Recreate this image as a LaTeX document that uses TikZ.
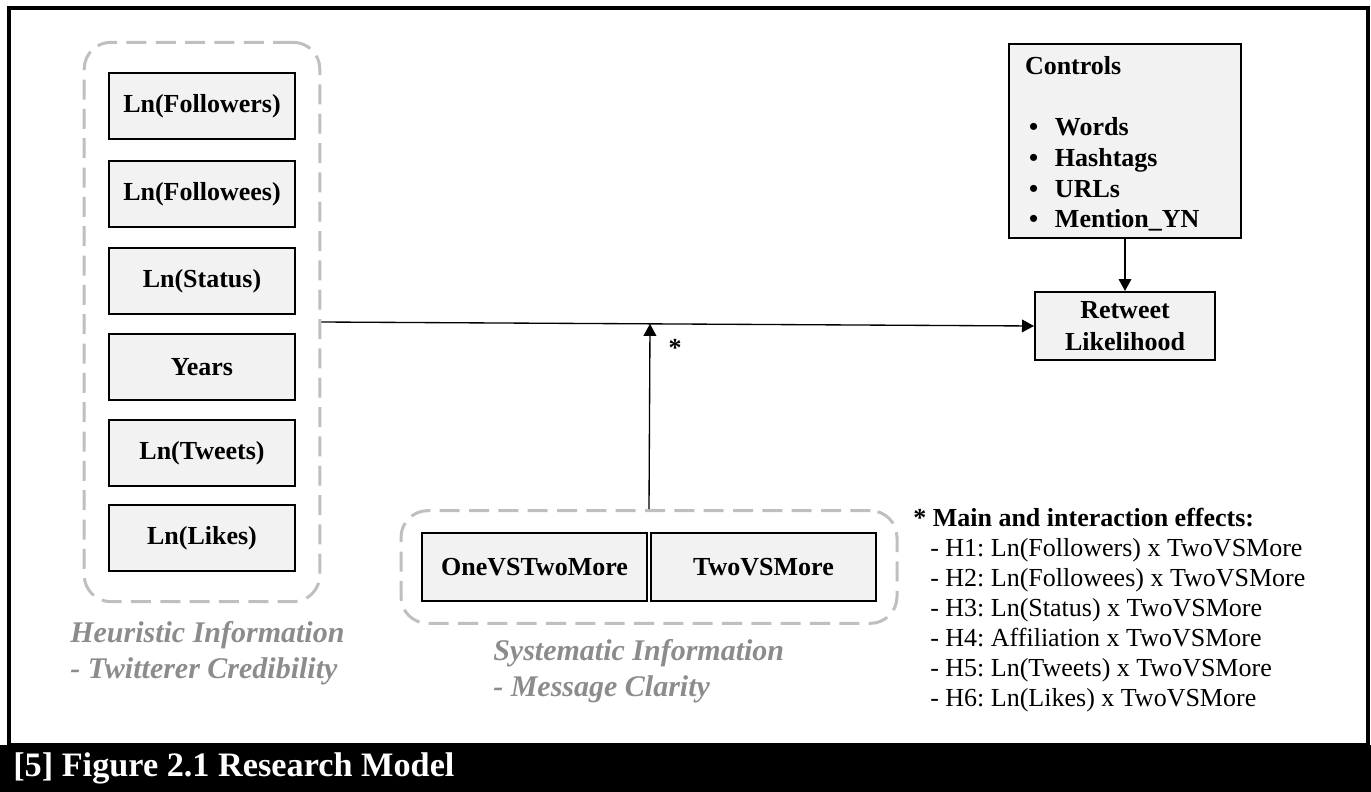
\documentclass[tikz,border=0pt]{standalone}
\usepackage{fontspec}
\setmainfont{Liberation Serif}
\frenchspacing
\usetikzlibrary{arrows.meta,calc,fit}
\definecolor{boxfill}{RGB}{242,242,242}
\definecolor{groupline}{RGB}{191,191,191}
\definecolor{grouptext}{RGB}{140,140,140}

\begin{document}
\begin{tikzpicture}[x=0.75pt,y=0.75pt,yscale=-1,xscale=1,
	varbox/.style={draw=black, line width=1.5pt, fill=boxfill, inner sep=0pt, align=center,
		font=\fontsize{19.5pt}{24pt}\selectfont\bfseries},
	hbox/.style={varbox, minimum width=140pt, minimum height=50pt},
	sbox/.style={varbox, minimum width=168.75pt, minimum height=51pt},
	groupbox/.style={draw=groupline, line width=2.25pt, dash pattern=on 15pt off 7pt, rounded corners=20pt},
	grouplabel/.style={text=grouptext, anchor=north west, inner sep=0pt, align=left,
		font=\fontsize{22.5pt}{27pt}\selectfont\bfseries\itshape},
	link/.style={line width=1pt, -{Triangle[width=9.5pt,length=9pt]}}
	]
	\useasboundingbox (0,0) rectangle (1371,792);

	%Frame and caption bar
	\draw[line width=2.5pt] (9,8) rectangle (1368,745);
	\fill[black] (0,745) rectangle (1371,792);
	\node[anchor=west, inner sep=0pt, text=white, font=\fontsize{25.7pt}{30pt}\selectfont\bfseries] (caption) at (13,768) {[5] Figure 2.1 Research Model};

	%Heuristic variables
	\node[hbox] (followers) at (202,106) {Ln(Followers)};
	\node[hbox] (followees) at (202,194) {Ln(Followees)};
	\node[hbox] (status) at (202,281) {Ln(Status)};
	\node[hbox] (years) at (202,367) {Years};
	\node[hbox] (tweets) at (202,453) {Ln(Tweets)};
	\node[hbox] (likes) at (202,538) {Ln(Likes)};
	\node[groupbox, fit=(followers)(likes), inner xsep=17.6pt, inner ysep=22pt] (hgroup) {};

	%Systematic variables
	\node[sbox] (onevs) at (534.5,567) {OneVSTwoMore};
	\node[sbox] (twovs) at (763.5,567) {TwoVSMore};
	\node[groupbox, fit=(onevs)(twovs), inner xsep=15pt, inner ysep=16pt] (sgroup) {};

	%Controls and outcome
	\node[varbox, anchor=north west, align=left, text width=150pt, inner xsep=12pt, inner ysep=2pt, minimum height=145.5pt,
		font=\fontsize{19.5pt}{23pt}\selectfont\bfseries] (controls) at (1008,43)
		{\rule{0pt}{18pt}Controls\\[23pt]
		\hspace*{3pt}\makebox[19.5pt][l]{•}Words\\
		\hspace*{3pt}\makebox[19.5pt][l]{•}Hashtags\\
		\hspace*{3pt}\makebox[19.5pt][l]{•}URLs\\
		\hspace*{3pt}\makebox[19.5pt][l]{•}Mention\_YN};
	\node[varbox, minimum width=135pt, minimum height=51pt] (retweet) at (1125,326) {Retweet\\Likelihood};

	%Paths
	\draw[link] (controls.south) -- (retweet.north);
	\draw[link] (hgroup.east) -- (retweet.west);
	\coordinate (joint) at ($(hgroup.east)!(sgroup.north)!(retweet.west)$);
	\draw[link] (sgroup.north) -- (joint);
	\node[inner sep=0pt, font=\fontsize{19.5pt}{24pt}\selectfont\bfseries] (star) at (675,348) {*};

	% Text Node
	\node[grouplabel] (hlabel) at (70,621) {Heuristic Information\\- Twitterer Credibility};
	% Text Node
	\node[grouplabel] (slabel) at (493,639) {Systematic Information\\- Message Clarity};
	% Text Node
	\node[anchor=north west, inner sep=0pt, align=left, font=\fontsize{19.5pt}{22.5pt}\selectfont] (notes) at (913,508)
		{\textbf{* Main and interaction effects:}\\
		\hspace*{12.75pt}- H1: Ln(Followers) x TwoVSMore\\
		\hspace*{12.75pt}- H2: Ln(Followees) x TwoVSMore\\
		\hspace*{12.75pt}- H3: Ln(Status) x TwoVSMore\\
		\hspace*{12.75pt}- H4: Affiliation x TwoVSMore\\
		\hspace*{12.75pt}- H5: Ln(Tweets) x TwoVSMore\\
		\hspace*{12.75pt}- H6: Ln(Likes) x TwoVSMore};
\end{tikzpicture}
\end{document}
